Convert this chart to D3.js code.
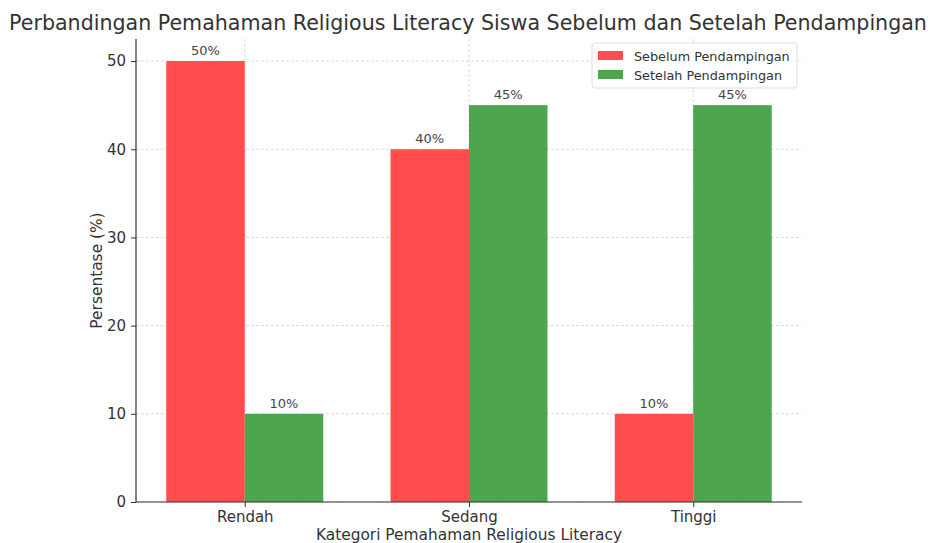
<!DOCTYPE html>
<html>
<head>
<meta charset="utf-8">
<script src="https://cdn.jsdelivr.net/npm/d3@7"></script>
<style>
  body { margin: 0; background: #fff; }
  svg { font-family: "DejaVu Sans", sans-serif; }
</style>
</head>
<body>
<svg width="928" height="543"></svg>
<script>
const categories = ["Rendah", "Sedang", "Tinggi"];
const seriesNames = ["Sebelum Pendampingan", "Setelah Pendampingan"];
const sebelum = [50, 40, 10];
const setelah = [10, 45, 45];
const yTicks = [0, 10, 20, 30, 40, 50];

const svg = d3.select("svg");
const margin = { left: 136, right: 126, top: 39, bottom: 41 };
const width = 928, height = 543;
const colors = ["#ff4d4d", "#4da64d"];

// x in "category index" units like matplotlib
const x = d3.scaleLinear().domain([-0.485, 2.485]).range([margin.left, width - margin.right]);
const y = d3.scaleLinear().domain([0, 52.5]).range([height - margin.bottom, margin.top]);
const barW = 0.35;

// grid
const grid = svg.append("g");
grid.selectAll(".gy").data(yTicks).enter().append("line")
  .attr("x1", x.range()[0]).attr("x2", x.range()[1])
  .attr("y1", d => y(d)).attr("y2", d => y(d))
  .attr("stroke", "#cfcfcf").attr("stroke-width", 0.8).attr("stroke-dasharray", "3,2");
grid.selectAll(".gx").data(categories).enter().append("line")
  .attr("x1", (d, i) => x(i)).attr("x2", (d, i) => x(i))
  .attr("y1", y.range()[0]).attr("y2", y.range()[1])
  .attr("stroke", "#cfcfcf").attr("stroke-width", 0.8).attr("stroke-dasharray", "3,2");

// bars
const series = [sebelum, setelah];
series.forEach((vals, s) => {
  const off = s === 0 ? -barW : 0;
  svg.append("g").selectAll("rect").data(vals).enter().append("rect")
    .attr("x", (d, i) => x(i + off))
    .attr("width", x(barW) - x(0))
    .attr("y", d => y(d))
    .attr("height", d => y(0) - y(d))
    .attr("fill", colors[s]);
  svg.append("g").selectAll("text").data(vals).enter().append("text")
    .attr("x", (d, i) => x(i + off + barW / 2))
    .attr("y", d => y(d) - 6)
    .attr("text-anchor", "middle")
    .attr("font-size", 13).attr("fill", "#444")
    .text(d => d + "%");
});

// axes
const yAxis = d3.axisLeft(y).tickValues(yTicks).tickSize(5).tickPadding(5);
const gy = svg.append("g").attr("transform", `translate(${margin.left},0)`).call(yAxis);
const xAxis = d3.axisBottom(x).tickValues([0, 1, 2]).tickFormat(i => categories[i]).tickSize(5).tickPadding(4);
const gx = svg.append("g").attr("transform", `translate(0,${height - margin.bottom})`).call(xAxis);
[gx, gy].forEach(g => {
  g.select(".domain").attr("stroke", "#333").attr("stroke-width", 1.2)
    .attr("d", g === gx ? `M${x.range()[0]},0H${x.range()[1]}` : `M0,${y.range()[0]}V${y.range()[1]}`);
  g.selectAll(".tick line").attr("stroke", "#333");
  g.selectAll(".tick text").attr("font-size", 15).attr("fill", "#333")
    .attr("font-family", "DejaVu Sans, sans-serif");
});

// labels
svg.append("text").attr("x", 468).attr("y", 30).attr("text-anchor", "middle")
  .attr("font-size", 20.6).attr("fill", "#333")
  .text("Perbandingan Pemahaman Religious Literacy Siswa Sebelum dan Setelah Pendampingan");
svg.append("text").attr("x", x(1)).attr("y", 540).attr("text-anchor", "middle")
  .attr("font-size", 15.4).attr("fill", "#333")
  .text("Kategori Pemahaman Religious Literacy");
svg.append("text").attr("transform", `translate(102,${(y(0) + y(52.5)) / 2}) rotate(-90)`)
  .attr("text-anchor", "middle").attr("font-size", 15.4).attr("fill", "#333")
  .text("Persentase (%)");

// legend
const lg = svg.append("g").attr("transform", "translate(592,43)");
lg.append("rect").attr("width", 205).attr("height", 45).attr("rx", 3)
  .attr("fill", "#fff").attr("fill-opacity", 0.85).attr("stroke", "#ddd");
seriesNames.forEach((n, i) => {
  lg.append("rect").attr("x", 6).attr("y", 8 + i * 19).attr("width", 25).attr("height", 9)
    .attr("fill", colors[i]);
  lg.append("text").attr("x", 42).attr("y", 17.5 + i * 19).attr("font-size", 12.8).attr("fill", "#333").text(n);
});
</script>
</body>
</html>
